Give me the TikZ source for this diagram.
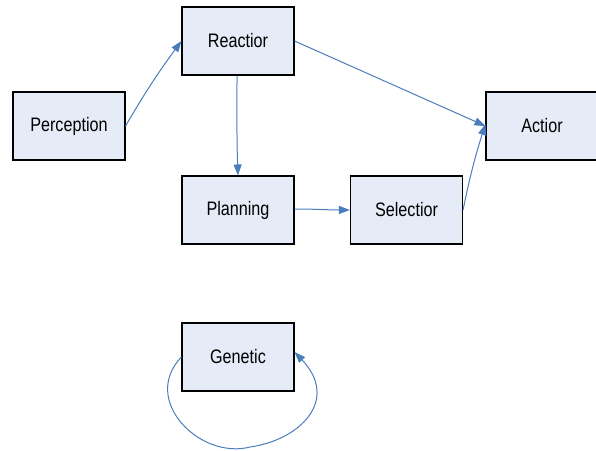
\documentclass[tikz,border=0pt]{standalone}
\usepackage{fontspec}
\setmainfont{Liberation Sans}
\newfontfamily\boxfont[FakeStretch=0.83]{Liberation Sans}
\usetikzlibrary{arrows.meta}
\definecolor{boxfill}{HTML}{E6ECF7}
\definecolor{edge}{HTML}{4A7EBB}
\begin{document}
\begin{tikzpicture}[x=1pt,y=-1pt,
  box/.style={draw=black,line width=1.1pt,fill=boxfill,minimum width=112pt,minimum height=68pt,inner sep=0pt,font=\boxfont\fontsize{19.5}{22}\selectfont},
  conn/.style={draw=edge,line width=1pt,-{Triangle[length=11pt,width=8pt]}}]
\useasboundingbox (0,0) rectangle (596,450);
\node[box] (per) at (69,126) {Perception};
\node[box] (rea) at (238,41) {Reactior};
\node[box] (act) at (542,126) {Actior};
\node[box] (pla) at (238,210) {Planning};
\node[box] (sel) at (406.5,210) {Selectior};
\node[box] (gen) at (238,357) {Genetic};
\draw[conn] (per.east) to[bend left=3] (rea.west);
\draw[conn] (rea.east) -- (act.west);
\draw[conn] ([xshift=-1pt]rea.south) to[out=-90,in=92] (pla.north);
\draw[conn] ([yshift=1pt]pla.east) to[out=0,in=180] (sel.west);
\draw[conn] (sel.east) to[bend left=3] ([yshift=2pt]act.west);
\draw[conn] (gen.west) .. controls (140,400) and (200,460) .. (250,447) .. controls (300,440) and (340,400) .. ([yshift=5pt]gen.east);
\end{tikzpicture}
\end{document}
